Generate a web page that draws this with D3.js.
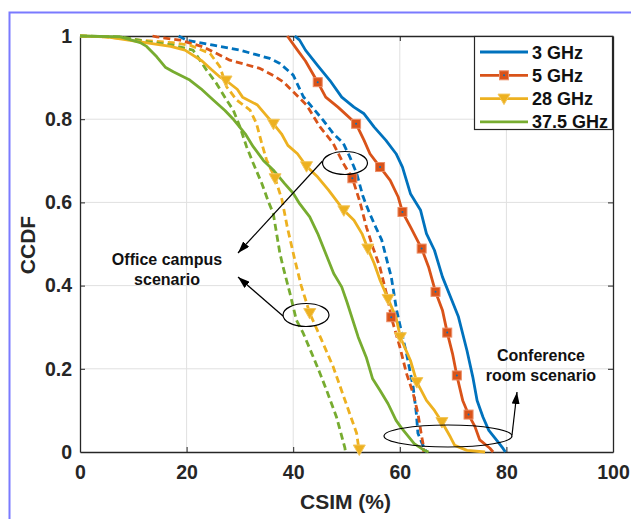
<!DOCTYPE html>
<html>
<head>
<meta charset="utf-8">
<script src="https://cdn.jsdelivr.net/npm/d3@7"></script>
<style>
  html, body { margin: 0; padding: 0; background: #fff; }
  svg { display: block; font-family: "Liberation Sans", Arial, Helvetica, sans-serif; }
</style>
</head>
<body>
<svg id="chart" width="631" height="519"></svg>
<script>
// ---------------- DATA ----------------
const xTicks = [0, 20, 40, 60, 80, 100];
const yTicks = [0, 0.2, 0.4, 0.6, 0.8, 1];
const seriesNames = ["3 GHz", "5 GHz", "28 GHz", "37.5 GHz"];
const xLabel = "CSIM (%)";
const yLabel = "CCDF";

// Conference room scenario (solid) : [CSIM %, CCDF]
const conf3GHz = [[40.3,1],[41.2,0.99],[42.3,0.966],[44.6,0.929],[46.9,0.893],[49.1,0.853],[51.4,0.829],[53.3,0.813],[55.2,0.781],[57.4,0.749],[59.3,0.717],[60.5,0.685],[62,0.621],[63.9,0.581],[65,0.525],[66.5,0.485],[68,0.421],[69.5,0.373],[71,0.325],[72.6,0.244],[73.7,0.18],[74.5,0.124],[75.6,0.084],[76.7,0.052],[78.2,0.028],[79.4,0.008],[79.8,0]];
const conf5GHz = [[38.9,1],[40.8,0.966],[42.3,0.94],[44.6,0.889],[46.1,0.853],[48.4,0.829],[51.8,0.789],[53.3,0.749],[54.4,0.717],[56.3,0.685],[58.2,0.653],[59.7,0.613],[60.5,0.577],[62,0.541],[64.1,0.489],[65.4,0.445],[66.7,0.385],[68,0.341],[68.9,0.287],[69.9,0.236],[70.7,0.184],[71.8,0.124],[72.9,0.09],[74.1,0.061],[75,0.029],[76.9,0.009],[77.5,0]];
const conf28GHz = [[0,1],[5,0.998],[11.3,0.986],[17,0.975],[19.7,0.966],[22.9,0.94],[24.6,0.92],[26.2,0.902],[27.4,0.893],[29.5,0.872],[30.5,0.853],[33.3,0.834],[34.9,0.81],[36.3,0.789],[37.8,0.765],[39,0.737],[40.8,0.717],[42.5,0.687],[44.6,0.661],[46.6,0.63],[49.5,0.581],[51.4,0.557],[52.9,0.525],[54,0.489],[55.2,0.453],[56.3,0.413],[57.8,0.368],[59.3,0.323],[60.1,0.276],[62,0.22],[63.2,0.168],[65,0.124],[66.5,0.1],[67.9,0.072],[69.5,0.036],[70.3,0.016],[72.6,0.004],[76,0]];
const conf37GHz = [[0,1],[7.6,0.998],[11.3,0.984],[12.5,0.975],[14.4,0.95],[16,0.925],[17.5,0.914],[20.6,0.894],[22.7,0.873],[25,0.846],[27.2,0.821],[28.9,0.798],[31,0.765],[32.5,0.734],[34.4,0.701],[36.25,0.678],[38.4,0.645],[40,0.622],[41.2,0.597],[43.1,0.565],[44.6,0.525],[46.1,0.477],[47.6,0.429],[49.1,0.397],[50.1,0.36],[52.2,0.276],[53.7,0.228],[54.9,0.176],[56.3,0.148],[57.8,0.116],[59.3,0.076],[60.3,0.058],[62.7,0.02],[64.6,0.004],[65.4,0]];

// Office campus scenario (dashed) : [CSIM %, CCDF]
const office3GHz = [[18.5,1],[20,0.99],[25,0.978],[30,0.966],[35.6,0.946],[37.5,0.934],[40,0.906],[41.9,0.854],[43.75,0.826],[45.6,0.798],[47.5,0.766],[49.4,0.742],[50.6,0.71],[51.9,0.67],[53.1,0.614],[54.3,0.575],[55.5,0.54],[56.6,0.51],[57.6,0.46],[58.4,0.421],[59.4,0.341],[60.3,0.29],[61.25,0.237],[62.5,0.157],[63.1,0.093],[63.4,0.045],[64.2,0.02],[65,0]];
const office5GHz = [[13.6,1],[14.4,0.998],[18.75,0.99],[23.1,0.974],[28.1,0.942],[33.75,0.922],[36.3,0.905],[38.1,0.89],[40,0.866],[42.5,0.834],[45,0.782],[47.5,0.742],[49.4,0.694],[51.1,0.658],[52.5,0.602],[53.75,0.54],[55,0.49],[56.25,0.445],[57.8,0.365],[58.4,0.324],[60,0.253],[61.25,0.189],[62.5,0.141],[63.4,0.093],[64,0.045],[64.4,0.017],[64.5,0]];
const office28GHz = [[0,1],[4.5,0.998],[11.3,0.99],[17.4,0.984],[20.6,0.978],[24.4,0.958],[26.25,0.926],[27.5,0.878],[29.4,0.846],[31.9,0.822],[33.1,0.79],[34.1,0.742],[35,0.702],[36.6,0.658],[37.9,0.606],[38.9,0.54],[40.3,0.462],[41.5,0.4],[43.1,0.334],[45.3,0.27],[47.5,0.205],[49.7,0.125],[51.9,0.045],[52.4,0]];
const office37GHz = [[0,1],[7.6,0.998],[12.8,0.986],[17.4,0.978],[21.2,0.966],[22.5,0.942],[23.75,0.918],[25.6,0.886],[27.5,0.846],[28.75,0.822],[30,0.782],[31.25,0.734],[32.5,0.694],[34.1,0.646],[35.4,0.6],[36.25,0.574],[37.5,0.478],[38.1,0.445],[39.4,0.381],[40.6,0.317],[41.9,0.285],[43.75,0.229],[45,0.19],[46.25,0.149],[48.1,0.085],[49.7,0.01],[49.8,0]];

// Marker positions
const conf5Markers = [[44.6,0.889],[51.8,0.789],[56.3,0.685],[60.5,0.577],[64.1,0.489],[66.7,0.385],[68.9,0.287],[70.7,0.184],[72.9,0.09]];
const office5Markers = [[51.1,0.658],[58.4,0.324]];
const conf28Markers = [[27.4,0.893],[36.3,0.789],[42.5,0.687],[49.5,0.581],[54,0.489],[57.8,0.368],[60.1,0.276],[63.2,0.168],[67.9,0.072]];
const office28Markers = [[36.6,0.658],[43.1,0.334],[52.4,0.006]];

// Annotation texts
const officeText = ["Office campus", "scenario"];
const confText = ["Conference", "room scenario"];

// ---------------- DRAW ----------------
const colors = ["#0072BD", "#D95319", "#EDB120", "#77AC30"];
const svg = d3.select("#chart");
const L = 80, R = 613, T = 36, B = 452;
const x = d3.scaleLinear().domain([0, 100]).range([L, R]);
const y = d3.scaleLinear().domain([0, 1]).range([B, T]);

// figure border (blue)
svg.append("path").attr("d", `M9.5,519 L9.5,12.5 L631,12.5`)
  .attr("fill", "none").attr("stroke", "#7a7aff").attr("stroke-width", 2);

// grid
const grid = svg.append("g");
grid.selectAll(".gx").data(xTicks.slice(1, -1)).join("line")
  .attr("x1", d => x(d)).attr("x2", d => x(d)).attr("y1", T).attr("y2", B)
  .attr("stroke", "#e0e0e0").attr("stroke-width", 1);
grid.selectAll(".gy").data(yTicks.slice(1, -1)).join("line")
  .attr("y1", d => y(d)).attr("y2", d => y(d)).attr("x1", L).attr("x2", R)
  .attr("stroke", "#e0e0e0").attr("stroke-width", 1);

// axes
const fmt = d => String(d);
const gxB = svg.append("g").attr("transform", `translate(0,${B})`)
  .call(d3.axisBottom(x).tickValues(xTicks).tickFormat(fmt).tickSizeInner(-5).tickSizeOuter(0).tickPadding(13));
const gxT = svg.append("g").attr("transform", `translate(0,${T})`)
  .call(d3.axisTop(x).tickValues(xTicks).tickFormat("").tickSizeInner(-5).tickSizeOuter(0));
const gyL = svg.append("g").attr("transform", `translate(${L},0)`)
  .call(d3.axisLeft(y).tickValues(yTicks).tickFormat(fmt).tickSizeInner(-5).tickSizeOuter(0).tickPadding(8));
const gyR = svg.append("g").attr("transform", `translate(${R},0)`)
  .call(d3.axisRight(y).tickValues(yTicks).tickFormat("").tickSizeInner(-5).tickSizeOuter(0));
[gxB, gxT, gyL, gyR].forEach(g => {
  g.select(".domain").attr("stroke", "#262626").attr("stroke-width", 1.3);
  g.selectAll(".tick line").attr("stroke", "#262626").attr("stroke-width", 1);
  g.selectAll(".tick text").attr("fill", "#262626").attr("font-size", 19.5).attr("font-weight", "bold")
    .attr("font-family", '"Liberation Sans", Arial, sans-serif');
});
gxB.selectAll(".tick line").filter(d => d === 0 || d === 100).remove();
gxT.selectAll(".tick line").filter(d => d === 0 || d === 100).remove();
gyL.selectAll(".tick line").filter(d => d === 0 || d === 1).remove();
gyR.selectAll(".tick line").filter(d => d === 0 || d === 1).remove();

// axis labels
svg.append("text").attr("x", (L + R) / 2 - 1).attr("y", 509).attr("text-anchor", "middle")
  .attr("font-size", 21).attr("font-weight", "bold").attr("fill", "#262626").text(xLabel);
svg.append("text").attr("transform", `translate(35,245) rotate(-90)`).attr("text-anchor", "middle")
  .attr("font-size", 21).attr("font-weight", "bold").attr("fill", "#262626").text(yLabel);

// lines
const line = d3.line().x(d => x(d[0])).y(d => y(d[1]));
const plotG = svg.append("g");
const curves = [
  [office3GHz, 0, true], [office5GHz, 1, true], [office28GHz, 2, true], [office37GHz, 3, true],
  [conf3GHz, 0, false], [conf5GHz, 1, false], [conf28GHz, 2, false], [conf37GHz, 3, false]
];
curves.forEach(([data, ci, dashed]) => {
  plotG.append("path").datum(data).attr("d", line)
    .attr("fill", "none").attr("stroke", colors[ci]).attr("stroke-width", 2.8)
    .attr("stroke-linejoin", "round")
    .attr("stroke-dasharray", dashed ? "7,4" : null);
});

// markers
function squares(g, pts) {
  g.selectAll(null).data(pts).join("rect")
    .attr("x", d => x(d[0]) - 4.5).attr("y", d => y(d[1]) - 4.5)
    .attr("width", 9).attr("height", 9)
    .attr("fill", colors[1]).attr("stroke", "#ec8d66").attr("stroke-width", 1);
  g.selectAll(null).data(pts).join("circle")
    .attr("cx", d => x(d[0])).attr("cy", d => y(d[1])).attr("r", 1)
    .attr("fill", colors[0]);
}
function triangles(g, pts) {
  g.selectAll(null).data(pts).join("path")
    .attr("d", d => {
      const cx = x(d[0]), cy = y(d[1]);
      return `M${cx - 6},${cy - 4.5} L${cx + 6},${cy - 4.5} L${cx},${cy + 6} Z`;
    })
    .attr("fill", colors[2]).attr("stroke", "#f3c65a").attr("stroke-width", 1);
}
const mG = svg.append("g");
squares(mG, conf5Markers);
squares(mG, office5Markers);
triangles(mG, conf28Markers);
triangles(mG, office28Markers);

// annotations
const defs = svg.append("defs");
defs.append("marker").attr("id", "arrow").attr("viewBox", "0 0 12 8")
  .attr("refX", 12).attr("refY", 4).attr("markerWidth", 12).attr("markerHeight", 8)
  .attr("markerUnits", "userSpaceOnUse").attr("orient", "auto")
  .append("path").attr("d", "M0,0 L12,4 L0,8 Z").attr("fill", "#000");

const ann = svg.append("g").attr("fill", "none").attr("stroke", "#000").attr("stroke-width", 1.2);
ann.append("ellipse").attr("cx", 345).attr("cy", 163).attr("rx", 22.5).attr("ry", 11.5);
ann.append("ellipse").attr("cx", 306).attr("cy", 315).attr("rx", 23).attr("ry", 11.5);
ann.append("ellipse").attr("cx", 448).attr("cy", 436).attr("rx", 64).attr("ry", 11);
ann.append("line").attr("x1", 322.5).attr("y1", 161).attr("x2", 238).attr("y2", 253).attr("marker-end", "url(#arrow)");
ann.append("line").attr("x1", 283).attr("y1", 316).attr("x2", 238).attr("y2", 277).attr("marker-end", "url(#arrow)");
ann.append("line").attr("x1", 512).attr("y1", 435).attr("x2", 517).attr("y2", 392).attr("marker-end", "url(#arrow)");

const txt = svg.append("g").attr("font-size", 16).attr("font-weight", "bold").attr("fill", "#111").attr("text-anchor", "middle");
officeText.forEach((t, i) => txt.append("text").attr("x", 167).attr("y", 265 + i * 20).text(t));
confText.forEach((t, i) => txt.append("text").attr("x", 541).attr("y", 361 + i * 20).text(t));

// legend
const lg = svg.append("g");
lg.append("rect").attr("x", 474.5).attr("y", 36.5).attr("width", 138).attr("height", 93)
  .attr("fill", "#fff").attr("stroke", "#262626").attr("stroke-width", 1.2);
seriesNames.forEach((name, i) => {
  const yy = 52 + i * 23.3;
  lg.append("line").attr("x1", 480).attr("x2", 528).attr("y1", yy).attr("y2", yy)
    .attr("stroke", colors[i]).attr("stroke-width", 2.8);
  lg.append("text").attr("x", 532).attr("y", yy + 6.5).attr("font-size", 18).attr("font-weight", "bold")
    .attr("fill", "#111").text(name);
});
squares(lg, [[x.invert(504), y.invert(52 + 23.3)]]);
triangles(lg, [[x.invert(504), y.invert(52 + 2 * 23.3)]]);
</script>
</body>
</html>
